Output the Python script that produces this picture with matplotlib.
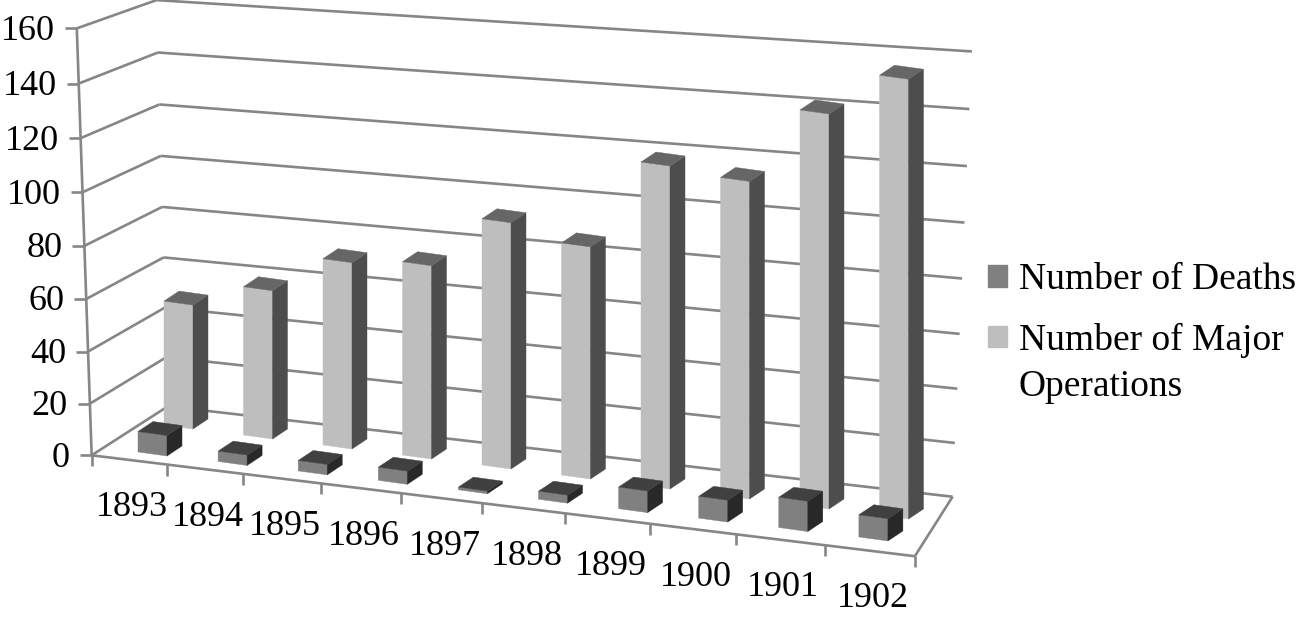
import numpy as np
import matplotlib
matplotlib.use('Agg')
import matplotlib.pyplot as plt
from matplotlib.patches import Patch

years = ['1893', '1894', '1895', '1896', '1897', '1898', '1899', '1900', '1901', '1902']
deaths = [8, 4, 4, 5, 1, 3, 8, 8, 11, 8]
operations = [49, 58, 72, 74, 93, 87, 119, 116, 142, 156]
y_ticks = [0, 20, 40, 60, 80, 100, 120, 140, 160]

GRID = '#868686'
# front, side, top
DEATH_COLORS = ['#808080', '#282828', '#404040']
OPS_COLORS = ['#BEBEBE', '#4D4D4D', '#666666']

plt.rcParams['font.family'] = ['Liberation Serif', 'DejaVu Serif']

# box corners (category, value, depth) and where they sit in the image
box = [(0, 0, 0), (0, 160, 0), (0, 0, 1), (0, 160, 1), (10, 0, 1), (10, 160, 1), (10, 0, 0),
       (5, 0, 0), (0, 80, 0), (0, 80, 1), (10, 80, 1)]
img = [(92, 456), (77, 28), (168, 405), (157, 0), (953, 497), (972, 52), (914, 557),
       (483, 503), (84, 245), (161, 209), (962, 277)]


def fit_camera(src, dst):
    rows = []
    for (x, y, z), (u, v) in zip(src, dst):
        rows.append([x, y, z, 1, 0, 0, 0, 0, -u * x, -u * y, -u * z, -u])
        rows.append([0, 0, 0, 0, x, y, z, 1, -v * x, -v * y, -v * z, -v])
    return np.linalg.svd(np.array(rows, dtype=float))[2][-1].reshape(3, 4)


cam = fit_camera(box, img)


def proj(x, y, z):
    p = cam @ np.array([x, y, z, 1.0])
    return p[0] / p[2], p[1] / p[2]


def line(ax, a, b, zorder=1):
    pa, pb = proj(*a), proj(*b)
    ax.plot([pa[0], pb[0]], [pa[1], pb[1]], color=GRID, lw=1.9, zorder=zorder,
            solid_capstyle='butt')


def bar3d(ax, i, val, base, step, z, colors, zorder):
    # columns stay upright and evenly spaced, only their height follows the camera
    x0 = base[0] + step[0] * i
    y0 = base[1] + step[1] * i
    w, slope = 29, 4
    dx, dy = 15, -10
    h = proj(i + 0.5, 0, z)[1] - proj(i + 0.5, val, z)[1]
    front = [(x0, y0), (x0 + w, y0 + slope), (x0 + w, y0 + slope - h), (x0, y0 - h)]
    side = [(x0 + w, y0 + slope), (x0 + w + dx, y0 + slope + dy),
            (x0 + w + dx, y0 + slope + dy - h), (x0 + w, y0 + slope - h)]
    top = [(x0, y0 - h), (x0 + w, y0 + slope - h),
           (x0 + w + dx, y0 + slope + dy - h), (x0 + dx, y0 + dy - h)]
    for face, c in zip([front, side, top], colors):
        ax.fill(*zip(*face), facecolor=c, edgecolor=c, lw=0.3, zorder=zorder)


fig = plt.figure(figsize=(12.97, 6.19), dpi=100)
ax = fig.add_axes([0, 0, 1, 1])
ax.set_xlim(0, 1297)
ax.set_ylim(619, 0)
ax.axis('off')

for t in y_ticks:
    line(ax, (0, t, 0), (0, t, 1))
    line(ax, (0, t, 1), (10, t, 1))
    u, v = proj(0, t, 0)
    ax.plot([u - 12, u], [v, v], color=GRID, lw=1.9, solid_capstyle='butt')
    ax.text(u - 22, v + 3, str(t), fontsize=26, ha='right', va='center', color='black')

line(ax, (0, 0, 0), (0, 160, 0))
line(ax, (0, 0, 0), (10, 0, 0))
line(ax, (10, 0, 0), (10, 0, 1))

for i in range(len(years) + 1):
    u, v = proj(i, 0, 0)
    ax.plot([u, u], [v, v + 11], color=GRID, lw=1.9, solid_capstyle='butt')

for i, year in enumerate(years):
    u, v = proj(i + 0.5, 0, 0)
    ax.text(u + 3, v + 48, year, fontsize=26, ha='center', va='center', color='black')

for i, val in enumerate(operations):
    bar3d(ax, i, val, (164, 425), (79.5, 10), 0.65, OPS_COLORS, 3)
for i, val in enumerate(deaths):
    bar3d(ax, i, val, (138, 452), (80.1, 9.44), 0.23, DEATH_COLORS, 4)

handles = [Patch(color=DEATH_COLORS[0]), Patch(color=OPS_COLORS[0])]
ax.legend(handles, ['Number of Deaths', 'Number of Major'], loc='upper left',
          bbox_to_anchor=(988 / 1297, 1 - 263 / 619), frameon=False, fontsize=27,
          handlelength=0.52, handleheight=0.52, handletextpad=0.32, labelspacing=0.67,
          borderpad=0, borderaxespad=0)
ax.text(1019, 387, 'Operations', fontsize=27, ha='left', va='center', color='black')

fig.savefig('out.png', dpi=100)
